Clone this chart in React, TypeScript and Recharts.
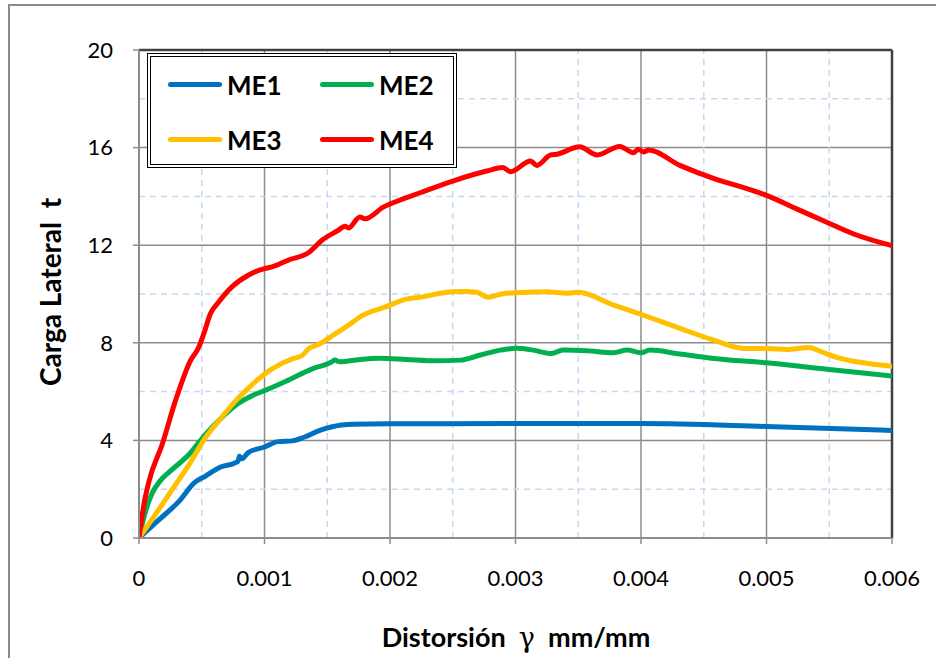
import { LineChart, Line, XAxis, YAxis, CartesianGrid, ReferenceLine } from 'recharts';

const FONT = 'Lato, "Open Sans", sans-serif';

// Ejes
const X_TICKS = [0, 0.001, 0.002, 0.003, 0.004, 0.005, 0.006];
const X_MINOR = [0.0005, 0.0015, 0.0025, 0.0035, 0.0045, 0.0055];
const Y_TICKS = [0, 4, 8, 12, 16, 20];
const Y_MINOR = [2, 6, 10, 14, 18];

// ME1
const ME1_X = [0, 0.00016, 0.00032, 0.00044, 0.00053, 0.00065, 0.00077, 0.00079, 0.0008, 0.00082, 0.00087, 0.001, 0.00111, 0.00122, 0.00132, 0.00143, 0.00153, 0.00171, 0.002, 0.003, 0.004, 0.005, 0.006];
const ME1_Y = [0, 0.75, 1.51, 2.26, 2.54, 2.91, 3.09, 3.16, 3.35, 3.25, 3.5, 3.73, 3.95, 3.98, 4.14, 4.39, 4.55, 4.66, 4.68, 4.69, 4.69, 4.57, 4.41];

// ME2
const ME2_X = [0, 0.00005, 0.000106, 0.00017, 0.00024, 0.0004, 0.00053, 0.00066, 0.00079, 0.00093, 0.001, 0.00119, 0.00138, 0.00153, 0.00156, 0.0016, 0.00176, 0.00192, 0.00213, 0.00237, 0.00256, 0.00272, 0.00288, 0.00301, 0.00314, 0.00328, 0.00338, 0.00357, 0.00378, 0.00389, 0.004, 0.00407, 0.00431, 0.00458, 0.005, 0.0055, 0.006];
const ME2_Y = [0, 1.05, 1.85, 2.35, 2.7, 3.43, 4.25, 4.94, 5.51, 5.9, 6.04, 6.47, 6.93, 7.2, 7.29, 7.22, 7.32, 7.37, 7.32, 7.26, 7.29, 7.5, 7.7, 7.78, 7.7, 7.56, 7.7, 7.67, 7.59, 7.7, 7.59, 7.7, 7.54, 7.36, 7.18, 6.91, 6.64];

// ME3
const ME3_X = [0, 0.00013, 0.000265, 0.0004, 0.00053, 0.000635, 0.00077, 0.0009, 0.00106, 0.00122, 0.0013, 0.00135, 0.00144, 0.00155, 0.00171, 0.00175, 0.00197, 0.00213, 0.00224, 0.0025, 0.00261, 0.00269, 0.00278, 0.0029, 0.00304, 0.00325, 0.00341, 0.0035, 0.00378, 0.004, 0.00431, 0.00458, 0.00482, 0.005, 0.00516, 0.00534, 0.00542, 0.00556, 0.00572, 0.006];
const ME3_Y = [0, 0.96, 1.99, 3.02, 4.12, 4.8, 5.62, 6.28, 6.93, 7.34, 7.48, 7.75, 7.96, 8.32, 8.87, 9.03, 9.48, 9.79, 9.87, 10.09, 10.1, 10.07, 9.87, 10.01, 10.06, 10.09, 10.03, 10.07, 9.55, 9.17, 8.59, 8.11, 7.77, 7.77, 7.73, 7.81, 7.67, 7.4, 7.22, 7.04];

// ME4
const ME4_X = [0, 0.00004, 0.00008, 0.000185, 0.00029, 0.00041, 0.000476, 0.000516, 0.000569, 0.000635, 0.00074, 0.00087, 0.001, 0.00106, 0.00119, 0.00135, 0.00146, 0.00159, 0.00164, 0.00167, 0.00176, 0.0018, 0.00195, 0.00201, 0.00224, 0.0025, 0.00277, 0.0029, 0.00296, 0.00312, 0.00317, 0.00328, 0.00333, 0.00351, 0.00365, 0.00383, 0.00394, 0.00398, 0.00402, 0.00406, 0.00431, 0.0046, 0.00476, 0.005, 0.00524, 0.00548, 0.00569, 0.006];
const ME4_Y = [0, 1.4, 2.33, 3.84, 5.62, 7.27, 7.82, 8.37, 9.19, 9.67, 10.29, 10.77, 11.04, 11.11, 11.39, 11.69, 12.21, 12.62, 12.78, 12.71, 13.16, 13.08, 13.57, 13.71, 14.15, 14.63, 15.04, 15.18, 15.01, 15.45, 15.27, 15.7, 15.73, 16.03, 15.7, 16.05, 15.79, 15.93, 15.82, 15.9, 15.27, 14.7, 14.45, 14.04, 13.49, 12.94, 12.47, 11.98];

const SERIES = [
  { name: 'ME1', color: '#0070C0', xs: ME1_X, ys: ME1_Y },
  { name: 'ME2', color: '#00B050', xs: ME2_X, ys: ME2_Y },
  { name: 'ME3', color: '#FFC000', xs: ME3_X, ys: ME3_Y },
  { name: 'ME4', color: '#FF0000', xs: ME4_X, ys: ME4_Y },
];

const toPoints = (xs: number[], ys: number[]) => xs.map((x, i) => ({ x, y: ys[i] }));

const tickStyle = { fontSize: 22, fill: '#000', fontFamily: FONT };

function LegendBox() {
  return (
    <div
      style={{
        position: 'absolute', left: 147, top: 53, width: 302, height: 107,
        border: '4px double #000', background: '#fff', fontFamily: FONT,
        display: 'grid', gridTemplateColumns: '152px 150px', gridTemplateRows: '55px 55px',
      }}
    >
      {SERIES.map((s) => (
        <div key={s.name} style={{ display: 'flex', alignItems: 'center', paddingLeft: 17 }}>
          <div style={{ width: 54, height: 5, borderRadius: 3, background: s.color, marginRight: 5 }} />
          <span style={{ fontWeight: 700, fontSize: 26, color: '#000' }}>{s.name}</span>
        </div>
      ))}
    </div>
  );
}

export default function App() {
  return (
    <div style={{ position: 'fixed', left: 0, top: 0, width: 936, height: 658, overflow: 'hidden', background: '#fff' }}>
      <div style={{ position: 'absolute', left: 8, top: 4, width: 1000, height: 700, border: '2px solid #8a8a8a' }} />
      <div style={{ position: 'absolute', left: 0, top: 0 }}>
        <LineChart width={936} height={658} margin={{ top: 50, right: 44, bottom: 90, left: 79 }}>
          {X_MINOR.map((v) => (
            <ReferenceLine key={'xm' + v} x={v} stroke="#C6D9F1" strokeWidth={1.5} strokeDasharray="6 5" />
          ))}
          {Y_MINOR.map((v) => (
            <ReferenceLine key={'ym' + v} y={v} stroke="#C6D9F1" strokeWidth={1.5} strokeDasharray="6 5" />
          ))}
          <CartesianGrid stroke="#8C8C8C" strokeWidth={1.5} />
          <XAxis
            type="number"
            dataKey="x"
            domain={[0, 0.006]}
            ticks={X_TICKS}
            tickFormatter={(v: number) => (v === 0 ? '0' : v.toFixed(3))}
            tick={tickStyle}
            tickSize={6}
            tickMargin={26}
            axisLine={{ stroke: '#8C8C8C', strokeWidth: 2 }}
            tickLine={{ stroke: '#8C8C8C', strokeWidth: 1.5 }}
            height={30}
            allowDataOverflow
          />
          <YAxis
            type="number"
            domain={[0, 20]}
            ticks={Y_TICKS}
            tick={tickStyle}
            tickSize={6}
            tickMargin={20}
            axisLine={{ stroke: '#8C8C8C', strokeWidth: 2 }}
            tickLine={{ stroke: '#8C8C8C', strokeWidth: 1.5 }}
            width={60}
            allowDataOverflow
          />
          <ReferenceLine x={0.006} stroke="#404040" strokeWidth={2.5} />
          <ReferenceLine y={20} stroke="#404040" strokeWidth={2.5} />
          {SERIES.map((s) => (
            <Line
              key={s.name}
              data={toPoints(s.xs, s.ys)}
              dataKey="y"
              name={s.name}
              type="monotone"
              stroke={s.color}
              strokeWidth={5}
              strokeLinejoin="round"
              strokeLinecap="round"
              dot={false}
              activeDot={false}
              isAnimationActive={false}
            />
          ))}
        </LineChart>
      </div>
      <LegendBox />
      <div
        style={{
          position: 'absolute', left: 50, top: 292, transform: 'translate(-50%, -50%) rotate(-90deg)',
          whiteSpace: 'pre', fontFamily: FONT, fontWeight: 700, fontSize: 28, color: '#000',
        }}
      >
        {'Carga Lateral  t'}
      </div>
      <div
        style={{
          position: 'absolute', left: 516, top: 636, transform: 'translate(-50%, -50%)',
          whiteSpace: 'pre', fontFamily: FONT, fontWeight: 700, fontSize: 27, color: '#000',
        }}
      >
        {'Distorsión  '}
        <span style={{ fontFamily: '"DejaVu Serif", serif', fontWeight: 400 }}>γ</span>
        {'  mm/mm'}
      </div>
    </div>
  );
}
